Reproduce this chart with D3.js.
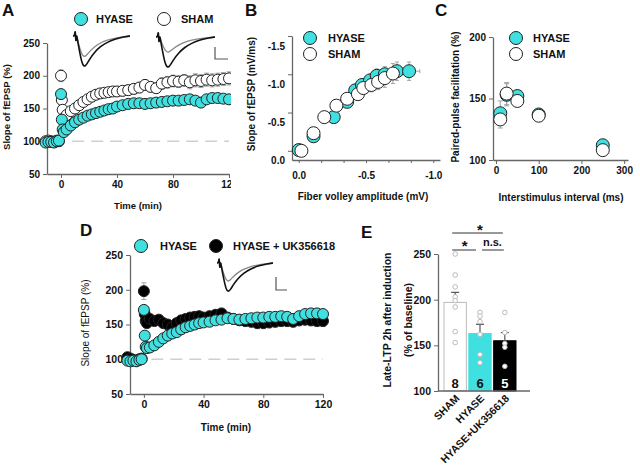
<!DOCTYPE html>
<html><head><meta charset="utf-8">
<script src="https://cdn.jsdelivr.net/npm/d3@7"></script>
<style>body{margin:0;background:#fff}</style>
</head><body><svg id="c" width="640" height="467"></svg>
<script>
// ---------------- DATA ----------------
// Panel A / D time points (min)
const times = [-11,-9,-7,-5,-3,-1.5,0,0.6,1.2,2,4,7,10,13,16,19,22,25,28,31,34,37,40,44,48,52,56,60,64,68,72,76,80,84,88,92,96,100,104,108,112,116,120];
const hyaseA = [98,99,99,98,100,101,172,133,118,114,118,124,129,133,136,139,141,143,145,147,149,150,153,155,157,158,158,157,158,159,160,161,162,162,163,164,162,159,164,166,166,165,164];
const hyaseAErr = [2,2,2,2,2,2,6,5,4,4,4,4,4,4,4,5,5,5,5,5,5,5,5,6,6,6,6,6,6,6,6,6,6,6,6,6,6,6,6,6,6,6,6];
const shamA = [100,101,100,99,101,100,200,163,148,135,140,146,150,155,160,164,168,171,173,174,175,176,176,177,178,180,182,186,183,181,188,190,192,191,193,190,193,192,194,193,194,195,196];
const shamAErr = [2,2,2,2,2,2,9,6,5,5,5,5,6,6,6,6,7,7,7,7,7,7,7,8,8,8,8,8,8,8,9,9,9,9,9,10,10,10,10,10,10,10,10];
const hyaseD = [98,97,98,97,99,100,171,134,118,116,117,120,125,130,134,137,139,143,146,148,150,152,153,154,156,157,159,158,157,158,159,160,160,161,161,162,161,158,162,165,166,166,165];
const hyaseDErr = [2,2,2,2,2,2,6,5,4,4,4,4,4,4,4,5,5,5,5,5,5,5,5,6,6,6,6,6,6,6,6,6,6,6,6,6,6,6,6,6,6,6,6];
const ukD = [103,101,99,98,100,101,198,165,155,152,158,155,157,152,150,146,152,156,158,160,161,162,160,162,164,166,160,158,156,155,154,152,152,153,154,155,155,154,156,157,156,155,155];
const ukDErr = [3,3,3,3,3,3,12,8,6,6,6,6,6,6,6,6,6,6,6,6,6,6,6,7,7,7,7,7,7,8,8,8,8,8,8,8,8,8,8,8,8,8,8];
const ticksTime = [0,40,80,120];
const ticksSlope = [50,100,150,200,250];

// Panel B (input-output)
const fvHyase = [0.0,-0.11,-0.26,-0.36,-0.42,-0.47,-0.53,-0.58,-0.64,-0.73,-0.82];
const slHyase = [-0.01,-0.19,-0.44,-0.64,-0.79,-0.86,-0.92,-0.98,-1.00,-1.04,-1.04];
const fvHyaseErr = [0.005,0.01,0.01,0.02,0.02,0.03,0.03,0.04,0.05,0.06,0.08];
const slHyaseErr = [0.01,0.02,0.04,0.05,0.06,0.07,0.08,0.09,0.10,0.12,0.12];
const fvSham = [-0.02,-0.11,-0.19,-0.28,-0.36,-0.44,-0.48,-0.54,-0.59,-0.64,-0.70];
const slSham = [0.0,-0.23,-0.44,-0.59,-0.68,-0.74,-0.82,-0.86,-0.90,-0.95,-1.01];
const fvShamErr = [0.005,0.01,0.01,0.02,0.02,0.03,0.03,0.04,0.05,0.06,0.07];
const slShamErr = [0.01,0.02,0.04,0.05,0.06,0.07,0.08,0.09,0.10,0.12,0.13];
const ticksFvLabels = [0,-0.5,-1.0];
const ticksSl = [0,-0.5,-1.0,-1.5];

// Panel C (paired pulse)
const isi = [10,25,50,100,250];
const ppfHyase = [138,153,152,137,112];
const ppfHyaseErr = [10,9,3,2,2];
const ppfSham = [133,154,148,136,108];
const ppfShamErr = [7,9,3,2,2];
const ticksIsi = [0,100,200,300];
const ticksPpf = [100,150,200];

// Panel E (late LTP)
const groupsE = ["SHAM","HYASE","HYASE+UK356618"];
const meanE = [197,163,155];
const semE = [11,10,9];
const nE = ["8","6","5"];
const dotsSham = [250,227,214,203,199,192,165,153];
const dotsHyase = [186,182,176,162,140,131];
const dotsUK = [186,164,152,148,127];
const ticksE = [100,150,200,250];

// Inset traces (normalised time, amplitude)
const trT =      [0,0.03,0.04,0.05,0.06,0.08,0.12,0.16,0.2,0.24,0.3,0.38,0.48,0.6,0.75,0.9,1];
const trBlack =  [0,0,0.25,-0.3,0.1,-0.15,-0.55,-0.9,-1.0,-0.92,-0.72,-0.52,-0.34,-0.2,-0.09,-0.03,0];
const trGreyA1 = [0,0,0.25,-0.3,0.1,-0.12,-0.4,-0.62,-0.68,-0.62,-0.48,-0.34,-0.22,-0.13,-0.06,-0.02,0];
const trGreyA2 = [0,0,0.25,-0.3,0.1,-0.1,-0.3,-0.45,-0.5,-0.46,-0.36,-0.26,-0.17,-0.1,-0.05,-0.02,0];
const trGreyD =  [0,0,0.25,-0.3,0.1,-0.12,-0.38,-0.58,-0.64,-0.58,-0.45,-0.32,-0.21,-0.12,-0.06,-0.02,0];

// ---------------- DRAWING ----------------
const FONT = '"Liberation Sans", Arial, sans-serif';
const CYAN = "#40e0e0";
const EDGE = "#222";
const ERR = "#9a9a9a";
const AX = "#666";
const svg = d3.select("#c");
svg.append("rect").attr("width",640).attr("height",467).attr("fill","#fff");

function styleAxis(g, fs){
  g.selectAll(".domain").attr("stroke",AX).attr("stroke-width",1.3);
  g.selectAll(".tick line").attr("stroke",AX).attr("stroke-width",1);
  g.selectAll(".tick text").attr("font-family",FONT).attr("font-weight","bold")
    .attr("font-size",fs||10).attr("fill","#111");
}
function txt(g,x,y,s,o){
  o=o||{};
  const t=g.append("text").attr("x",x).attr("y",y).text(s)
    .attr("font-family",FONT).attr("font-size",o.size||10)
    .attr("font-weight",o.weight||"bold").attr("fill",o.fill||"#111")
    .attr("text-anchor",o.anchor||"start");
  if(o.rot!==undefined) t.attr("transform",`rotate(${o.rot},${x},${y})`);
  return t;
}
function vErr(g, xs, ys, es, x, y, cap){
  xs.forEach((xv,i)=>{
    const cx=x(xv), y1=y(ys[i]-es[i]), y2=y(ys[i]+es[i]);
    g.append("line").attr("x1",cx).attr("x2",cx).attr("y1",y1).attr("y2",y2).attr("stroke",ERR).attr("stroke-width",0.9);
    [y1,y2].forEach(yy=>g.append("line").attr("x1",cx-cap).attr("x2",cx+cap).attr("y1",yy).attr("y2",yy).attr("stroke",ERR).attr("stroke-width",0.9));
  });
}
function hErr(g, xs, ys, es, x, y, cap){
  xs.forEach((xv,i)=>{
    const cy=y(ys[i]), x1=x(xv-es[i]), x2=x(xv+es[i]);
    g.append("line").attr("x1",x1).attr("x2",x2).attr("y1",cy).attr("y2",cy).attr("stroke",ERR).attr("stroke-width",0.9);
    [x1,x2].forEach(xx=>g.append("line").attr("x1",xx).attr("x2",xx).attr("y1",cy-cap).attr("y2",cy+cap).attr("stroke",ERR).attr("stroke-width",0.9));
  });
}
function dots(g, xs, ys, x, y, r, fill){
  g.selectAll(null).data(xs).enter().append("circle")
    .attr("cx",(d)=>x(d)).attr("cy",(d,i)=>y(ys[i])).attr("r",r)
    .attr("fill",fill).attr("stroke",EDGE).attr("stroke-width",1);
}
function trace(g, vals, xr, y0, y1, color, w){
  const x = d3.scaleLinear().domain([0,1]).range(xr);
  const y = d3.scaleLinear().domain([0,-1]).range([y0,y1]);
  g.append("path").attr("d",d3.line().x((d,i)=>x(trT[i])).y(d=>y(d)).curve(d3.curveBasis)(vals))
    .attr("fill","none").attr("stroke",color).attr("stroke-width",w);
}
function scaleBar(g,x,y0,y1,x1){
  g.append("path").attr("d",`M${x},${y0}V${y1}H${x1}`).attr("fill","none").attr("stroke","#555").attr("stroke-width",1.2);
}

// ---------- Panel A ----------
svg.append("clipPath").attr("id","clipA").append("rect").attr("x",0).attr("y",0).attr("width",231).attr("height",230);
const gA = svg.append("g").attr("clip-path","url(#clipA)");
const xA = d3.scaleLinear().domain([-10,120]).range([47,229]);
const yA = d3.scaleLinear().domain([50,250]).range([174,43]);
gA.append("line").attr("x1",xA(8)).attr("x2",xA(120)).attr("y1",yA(100)).attr("y2",yA(100))
  .attr("stroke","#cfcfcf").attr("stroke-width",1.5).attr("stroke-dasharray","12,7");
gA.append("g").attr("transform","translate(47,0)").call(d3.axisLeft(yA).tickValues(ticksSlope).tickSize(4).tickSizeOuter(0)).call(g=>styleAxis(g));
gA.append("g").attr("transform","translate(0,174)").call(d3.axisBottom(xA).tickValues(ticksTime).tickSize(4).tickSizeOuter(0)).call(g=>styleAxis(g));
vErr(gA, times, shamA, shamAErr, xA, yA, 2.5);
vErr(gA, times, hyaseA, hyaseAErr, xA, yA, 2.5);
dots(gA, times, shamA, xA, yA, 5.5, "#fff");
dots(gA, times, hyaseA, xA, yA, 5.5, CYAN);
txt(gA, 138, 209, "Time (min)", {anchor:"middle", size:9.5});
txt(gA, 10, 107, "Slope of fEPSP (%)", {anchor:"middle", size:9.5, rot:-90});
gA.append("circle").attr("cx",81).attr("cy",19).attr("r",6.5).attr("fill",CYAN).attr("stroke",EDGE);
txt(gA, 96, 23, "HYASE", {size:11});
gA.append("circle").attr("cx",164).attr("cy",19).attr("r",6.5).attr("fill","#fff").attr("stroke",EDGE);
txt(gA, 181, 23, "SHAM", {size:11});
trace(gA, trGreyA1, [73,130], 36, 67, "#888", 1.3);
trace(gA, trBlack, [73,130], 36, 67, "#111", 1.6);
trace(gA, trGreyA2, [156,215], 37, 68, "#888", 1.3);
trace(gA, trBlack, [156,215], 37, 68, "#111", 1.6);
scaleBar(gA, 215, 47, 59, 228);
txt(svg, 2, 16, "A", {size:17});

// ---------- Panel B ----------
const gB = svg.append("g");
const xB = d3.scaleLinear().domain([0.05,-1.05]).range([292,440]);
const yB = d3.scaleLinear().domain([0.12,-1.5]).range([160,36]);
gB.append("g").attr("transform","translate(292,0)").call(d3.axisLeft(yB).tickValues(ticksSl).tickFormat(d=>d.toFixed(1)).tickSize(4).tickSizeOuter(0)).call(g=>styleAxis(g));
const fvTicks = d3.range(7).map(i=>-i/6);
gB.append("g").attr("transform","translate(0,160)").call(d3.axisBottom(xB).tickValues(fvTicks)
  .tickFormat(d=>ticksFvLabels.some(v=>Math.abs(v-d)<1e-6)?d.toFixed(1):"").tickSize(3).tickSizeOuter(0)).call(g=>styleAxis(g));
gB.selectAll(".tick text").attr("dy","1.3em");
hErr(gB, fvHyase, slHyase, fvHyaseErr, xB, yB, 2);
vErr(gB, fvHyase, slHyase, slHyaseErr, xB, yB, 2);
hErr(gB, fvSham, slSham, fvShamErr, xB, yB, 2);
vErr(gB, fvSham, slSham, slShamErr, xB, yB, 2);
dots(gB, fvHyase, slHyase, xB, yB, 6.5, CYAN);
dots(gB, fvSham, slSham, xB, yB, 6.5, "#fff");
txt(gB, 363, 200, "Fiber volley amplitude (mV)", {anchor:"middle"});
txt(gB, 255, 94, "Slope of fEPSP (mV/ms)", {anchor:"middle", rot:-90});
gB.append("circle").attr("cx",310).attr("cy",38).attr("r",6.5).attr("fill",CYAN).attr("stroke",EDGE);
txt(gB, 328, 42, "HYASE", {size:11});
gB.append("circle").attr("cx",310).attr("cy",54).attr("r",6.5).attr("fill","#fff").attr("stroke",EDGE);
txt(gB, 328, 58, "SHAM", {size:11});
txt(svg, 245, 16, "B", {size:17});

// ---------- Panel C ----------
const gC = svg.append("g");
const xC = d3.scaleLinear().domain([-7,309]).range([493,628]);
const yC = d3.scaleLinear().domain([100,200]).range([160,37]);
gC.append("g").attr("transform","translate(493,0)").call(d3.axisLeft(yC).tickValues(ticksPpf).tickSize(4).tickSizeOuter(0)).call(g=>styleAxis(g));
gC.append("g").attr("transform","translate(0,160)").call(d3.axisBottom(xC).tickValues(ticksIsi).tickSize(4).tickSizeOuter(0)).call(g=>styleAxis(g));
vErr(gC, isi, ppfHyase, ppfHyaseErr, xC, yC, 2.5);
vErr(gC, isi, ppfSham, ppfShamErr, xC, yC, 2.5);
dots(gC, isi, ppfHyase, xC, yC, 6.5, CYAN);
dots(gC, isi, ppfSham, xC, yC, 6.5, "#fff");
txt(gC, 561, 201, "Interstimulus interval (ms)", {anchor:"middle"});
txt(gC, 459, 97, "Paired-pulse facilitation (%)", {anchor:"middle", rot:-90});
gC.append("circle").attr("cx",516).attr("cy",38).attr("r",6.5).attr("fill",CYAN).attr("stroke",EDGE);
txt(gC, 533, 42, "HYASE", {size:11});
gC.append("circle").attr("cx",516).attr("cy",54).attr("r",6.5).attr("fill","#fff").attr("stroke",EDGE);
txt(gC, 533, 58, "SHAM", {size:11});
txt(svg, 435, 16, "C", {size:17});

// ---------- Panel D ----------
const gD = svg.append("g");
const xD = d3.scaleLinear().domain([-9.3,120]).range([130,323]);
const yD = d3.scaleLinear().domain([50,250]).range([394,255]);
gD.append("line").attr("x1",xD(5)).attr("x2",xD(120)).attr("y1",yD(100)).attr("y2",yD(100))
  .attr("stroke","#cfcfcf").attr("stroke-width",1.5).attr("stroke-dasharray","12,7");
gD.append("g").attr("transform","translate(130,0)").call(d3.axisLeft(yD).tickValues(ticksSlope).tickSize(4).tickSizeOuter(0)).call(g=>styleAxis(g,10.5));
gD.append("g").attr("transform","translate(0,394)").call(d3.axisBottom(xD).tickValues(ticksTime).tickSize(4).tickSizeOuter(0)).call(g=>styleAxis(g,10.5));
vErr(gD, times, ukD, ukDErr, xD, yD, 2.5);
vErr(gD, times, hyaseD, hyaseDErr, xD, yD, 2.5);
dots(gD, times, ukD, xD, yD, 5.5, "#000");
dots(gD, times, hyaseD, xD, yD, 5.5, CYAN);
txt(gD, 226, 431, "Time (min)", {anchor:"middle", size:10});
txt(gD, 89, 323, "Slope of fEPSP (%)", {anchor:"middle", size:10, weight:"normal", rot:-90});
gD.append("circle").attr("cx",141).attr("cy",246).attr("r",6.5).attr("fill",CYAN).attr("stroke",EDGE);
txt(gD, 160, 250, "HYASE", {size:11});
gD.append("circle").attr("cx",216).attr("cy",246).attr("r",6.5).attr("fill","#000").attr("stroke",EDGE);
txt(gD, 233, 250, "HYASE + UK356618", {size:11});
trace(gD, trGreyD, [217,273], 263, 292, "#888", 1.3);
trace(gD, trBlack, [217,273], 263, 292, "#111", 1.6);
scaleBar(gD, 276, 277, 290, 287);
txt(svg, 80, 236, "D", {size:17});

// ---------- Panel E ----------
const gE = svg.append("g");
const xE = d3.scaleBand().domain(groupsE).range([444,516]).paddingInner(0.1).paddingOuter(0);
const yE = d3.scaleLinear().domain([100,250]).range([391,254]);
gE.append("g").attr("transform","translate(438,0)").call(d3.axisLeft(yE).tickValues(ticksE).tickSize(4).tickSizeOuter(0)).call(g=>styleAxis(g,10.5));
const barFill = ["#fff", CYAN, "#000"];
const barStroke = ["#bbb", CYAN, "#000"];
const allDots = [dotsSham, dotsHyase, dotsUK];
groupsE.forEach((gname,i)=>{
  const bx = xE(gname), bw = xE.bandwidth(), cx = bx+bw/2;
  gE.append("rect").attr("x",bx).attr("y",yE(meanE[i])).attr("width",bw).attr("height",yE(100)-yE(meanE[i]))
    .attr("fill",barFill[i]).attr("stroke",barStroke[i]).attr("stroke-width",1);
  const ye = yE(meanE[i]+semE[i]);
  gE.append("line").attr("x1",cx).attr("x2",cx).attr("y1",yE(meanE[i])).attr("y2",ye).attr("stroke","#555").attr("stroke-width",1.2);
  gE.append("line").attr("x1",cx-4).attr("x2",cx+4).attr("y1",ye).attr("y2",ye).attr("stroke","#555").attr("stroke-width",1.2);
  gE.selectAll(null).data(allDots[i]).enter().append("circle")
    .attr("cx",cx).attr("cy",d=>yE(d)).attr("r",2.3).attr("fill","#fff").attr("stroke","#bbb").attr("stroke-width",1);
  txt(gE, cx, 388, nE[i], {anchor:"middle", size:13, fill: i===2?"#fff":"#111"});
  txt(gE, cx+5, 399, gname, {anchor:"end", size:10.5, rot:-45});
});
gE.append("line").attr("x1",438).attr("x2",530).attr("y1",391).attr("y2",391).attr("stroke",AX).attr("stroke-width",1.3);
// significance
const cS = xE("SHAM")+xE.bandwidth()/2, cH = xE("HYASE")+xE.bandwidth()/2, cU = xE("HYASE+UK356618")+xE.bandwidth()/2;
gE.append("line").attr("x1",cS-3).attr("x2",cU-2).attr("y1",233).attr("y2",233).attr("stroke","#333").attr("stroke-width",1);
txt(gE, (cS+cU)/2, 235, "*", {anchor:"middle", size:15});
gE.append("line").attr("x1",cS-3).attr("x2",cH-4).attr("y1",250).attr("y2",250).attr("stroke","#333").attr("stroke-width",1);
txt(gE, (cS+cH)/2-3, 251, "*", {anchor:"middle", size:15});
gE.append("line").attr("x1",cH+2).attr("x2",cU-1).attr("y1",250).attr("y2",250).attr("stroke","#333").attr("stroke-width",1);
txt(gE, (cH+cU)/2, 246, "n.s.", {anchor:"middle", size:11});
txt(gE, 391, 320, "Late-LTP 2h after induction", {anchor:"middle", size:10.5, rot:-90});
txt(gE, 412, 320, "(% of baseline)", {anchor:"middle", size:10.5, rot:-90});
txt(svg, 361, 238, "E", {size:17});
</script></body></html>
